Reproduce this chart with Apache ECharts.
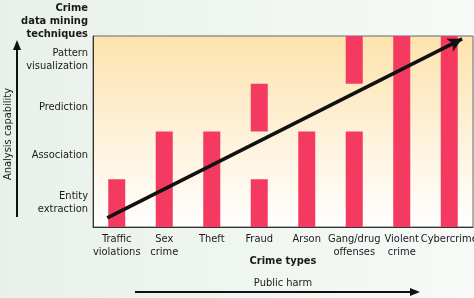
<!DOCTYPE html>
<html>
<head>
<meta charset="utf-8">
<script src="https://cdn.jsdelivr.net/npm/echarts@6/dist/echarts.min.js"></script>
<style>
  html, body { margin: 0; padding: 0; }
  #main { width: 474px; height: 298px; }
</style>
</head>
<body>
<div id="main"></div>
<script>
// crime types along the x axis
var crimeTypes = ["Traffic\nviolations", "Sex\ncrime", "Theft", "Fraud", "Arson", "Gang/drug\noffenses", "Violent\ncrime", "Cybercrime"];
// analysis levels along the y axis (bottom to top)
var techniques = ["Entity\nextraction", "Association", "Prediction", "Pattern\nvisualization"];
// lower bar: levels covered from the bottom
var lowerLevels = [1, 2, 2, 1, 2, 2, 4, 4];
// empty gap above the lower bar
var gapLevels = [0, 0, 0, 1, 0, 1, 0, 0];
// upper bar sitting above the gap
var upperLevels = [0, 0, 0, 1, 0, 1, 0, 0];
// trend arrow, in (category index, level) units
var trendStart = [0.3, 0.19];
var trendEnd = [7.77, 3.94];

var FONT = "'Liberation Sans Narrow', 'DejaVu Sans Condensed', sans-serif";
var BAR = "#f53a62";
var TXT = "#1a1a1a";

var chart = echarts.init(document.getElementById("main"));
chart.setOption({
  animation: false,
  backgroundColor: {
    type: "linear", x: 0, y: 0, x2: 1, y2: 0,
    colorStops: [{ offset: 0, color: "#e8f1e9" }, { offset: 1, color: "#f7faf7" }]
  },
  grid: {
    left: 93, right: 1, top: 36, bottom: 71,
    outerBoundsMode: "none",
    containLabel: false,
    show: true,
    borderColor: "#666",
    borderWidth: 1,
    backgroundColor: {
      type: "linear", x: 0, y: 0, x2: 0, y2: 1,
      colorStops: [{ offset: 0, color: "#fde3ad" }, { offset: 0.5, color: "#fef1d8" }, { offset: 1, color: "#ffffff" }]
    }
  },
  xAxis: [
    {
      type: "category",
      data: crimeTypes,
      axisLine: { lineStyle: { color: "#333", width: 1 } },
      axisTick: { show: false },
      axisLabel: { color: TXT, fontFamily: FONT, fontSize: 11, lineHeight: 13, margin: 6, interval: 0, hideOverlap: false }
    },
    { type: "value", min: 0, max: 8, show: false }
  ],
  yAxis: [
    {
      type: "category",
      data: techniques,
      axisLine: { show: true, lineStyle: { color: "#333", width: 1 } },
      axisTick: { show: false },
      splitLine: { show: false },
      axisLabel: { color: TXT, fontFamily: FONT, fontSize: 11, lineHeight: 13, margin: 5, align: "right" }
    },
    { type: "value", min: 0, max: 4, interval: 1, show: false, splitLine: { show: false } }
  ],
  series: [
    {
      type: "bar", name: "lower", stack: "c", xAxisIndex: 0, yAxisIndex: 1,
      barWidth: 17, itemStyle: { color: BAR }, data: lowerLevels
    },
    {
      type: "bar", name: "gap", stack: "c", xAxisIndex: 0, yAxisIndex: 1,
      barWidth: 17, itemStyle: { color: "rgba(0,0,0,0)" }, data: gapLevels
    },
    {
      type: "bar", name: "upper", stack: "c", xAxisIndex: 0, yAxisIndex: 1,
      barWidth: 17, itemStyle: { color: BAR }, data: upperLevels
    },
    {
      type: "line", xAxisIndex: 1, yAxisIndex: 1, data: [], silent: true,
      markLine: {
        silent: true,
        symbol: ["none", "arrow"],
        symbolSize: [11, 14],
        label: { show: false },
        lineStyle: { color: "#111", width: 3.5, type: "solid" },
        data: [[{ coord: trendStart }, { coord: trendEnd }]]
      }
    }
  ],
  graphic: [
    {
      type: "text", x: 88, y: 2,
      style: { text: "Crime\ndata mining\ntechniques", fill: TXT, font: "bold 11px " + FONT, lineHeight: 13, align: "right", verticalAlign: "top" }
    },
    {
      type: "line", shape: { x1: 17, y1: 217, x2: 17, y2: 46 },
      style: { stroke: "#111", lineWidth: 2 }
    },
    {
      type: "polygon", shape: { points: [[17, 40], [13, 50], [21, 50]] },
      style: { fill: "#111" }
    },
    {
      type: "text", x: 8, y: 134, rotation: Math.PI / 2,
      style: { text: "Analysis capability", fill: TXT, font: "11px " + FONT, align: "center", verticalAlign: "middle" }
    },
    {
      type: "text", x: 283, y: 261,
      style: { text: "Crime types", fill: TXT, font: "bold 11px " + FONT, align: "center", verticalAlign: "middle" }
    },
    {
      type: "text", x: 283, y: 283,
      style: { text: "Public harm", fill: TXT, font: "11px " + FONT, align: "center", verticalAlign: "middle" }
    },
    {
      type: "line", shape: { x1: 135, y1: 292, x2: 412, y2: 292 },
      style: { stroke: "#111", lineWidth: 2 }
    },
    {
      type: "polygon", shape: { points: [[420, 292], [410, 288], [410, 296]] },
      style: { fill: "#111" }
    }
  ]
});
</script>
</body>
</html>
